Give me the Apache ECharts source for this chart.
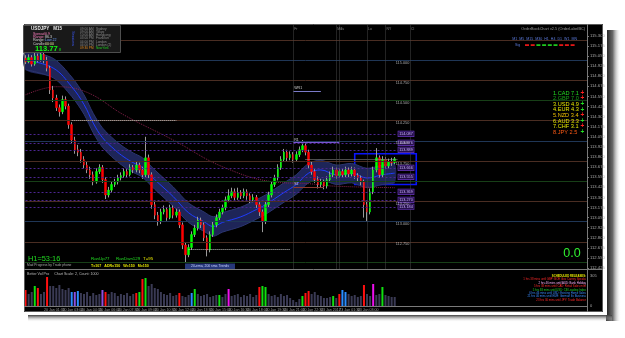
<!DOCTYPE html>
<html><head><meta charset="utf-8">
<script src="https://cdn.jsdelivr.net/npm/echarts@6/dist/echarts.min.js"></script>
<style>html,body{margin:0;padding:0;background:#fff;}#c{width:625px;height:338px;}</style>
</head><body><div id="c"></div>
<script>
// ---------- DATA ----------
const firstOpen = 115.02;
const closes = [114.98,115.03,114.95,115.05,115.00,115.07,115.00,114.90,114.63,114.53,
 114.41,114.36,114.51,114.43,114.20,114.01,113.89,113.86,113.77,113.70,
 113.64,113.58,113.49,113.62,113.67,113.52,113.33,113.39,113.46,113.49,
 113.54,113.57,113.62,113.58,113.67,113.64,113.70,113.64,113.58,113.79,
 113.58,113.21,113.08,113.00,113.12,113.15,113.05,113.17,113.08,113.12,
 112.96,112.71,112.59,112.68,112.84,112.92,113.02,112.96,112.80,112.65,
 112.84,112.96,113.05,113.12,113.17,113.27,113.32,113.37,113.30,113.36,
 113.32,113.37,113.32,113.27,113.30,113.21,113.12,113.00,113.21,113.33,
 113.46,113.54,113.67,113.77,113.86,113.79,113.83,113.77,113.83,113.89,
 113.94,113.86,113.70,113.62,113.52,113.46,113.49,113.44,113.52,113.58,
 113.64,113.57,113.62,113.58,113.64,113.59,113.64,113.57,113.54,113.49,
 113.21,113.12,113.37,113.64,113.79,113.58,113.77,113.69,113.74,113.73,
 113.778];
const highs = [115.06,115.07,115.06,115.09,115.08,115.12,115.09,115.04,114.93,114.68,
 114.57,114.45,114.56,114.55,114.46,114.23,114.05,113.95,113.90,113.81,
 113.74,113.68,113.62,113.66,113.71,113.70,113.55,113.43,113.50,113.53,
 113.58,113.61,113.66,113.65,113.71,113.70,113.74,113.73,113.68,114.05,
 113.83,113.61,113.25,113.12,113.16,113.20,113.18,113.21,113.20,113.16,
 113.15,112.99,112.74,112.72,112.88,112.96,113.06,113.05,112.99,112.83,
 112.88,113.00,113.09,113.16,113.21,113.31,113.40,113.42,113.41,113.42,
 113.39,113.41,113.40,113.35,113.34,113.33,113.24,113.15,113.25,113.37,
 113.50,113.58,113.71,113.81,113.90,113.89,113.87,113.86,113.87,113.93,
 114.01,113.97,113.89,113.74,113.65,113.56,113.53,113.52,113.56,113.62,
 113.68,113.67,113.66,113.65,113.68,113.67,113.68,113.67,113.60,113.57,
 113.52,113.25,113.41,113.68,113.91,113.82,113.81,113.80,113.78,113.79,
 113.80];
const lows = [114.95,114.96,114.92,114.93,114.97,114.98,114.96,114.86,114.58,114.48,
 114.37,114.30,114.33,114.39,114.15,113.97,113.84,113.81,113.73,113.66,
 113.60,113.53,113.45,113.47,113.59,113.48,113.28,113.30,113.36,113.43,
 113.46,113.51,113.54,113.55,113.56,113.60,113.61,113.60,113.53,113.55,
 113.54,113.16,113.03,112.95,112.97,113.09,113.01,113.03,113.04,113.05,
 112.92,112.66,112.50,112.56,112.65,112.81,112.89,112.92,112.76,112.57,
 112.62,112.81,112.93,113.02,113.09,113.14,113.24,113.29,113.26,113.27,
 113.28,113.29,113.27,113.23,113.24,113.17,113.07,112.87,112.97,113.18,
 113.30,113.43,113.51,113.64,113.74,113.75,113.76,113.73,113.74,113.80,
 113.86,113.82,113.66,113.58,113.48,113.41,113.42,113.40,113.41,113.49,
 113.55,113.53,113.54,113.54,113.55,113.55,113.56,113.53,113.50,113.45,
 113.05,113.00,113.09,113.34,113.61,113.54,113.55,113.65,113.66,113.69,
 113.71];
const volumes = [160,120,140,200,180,120,140,290,200,200,
 180,210,170,160,180,140,140,150,130,120,
 140,100,130,110,120,160,140,120,140,130,
 100,120,110,130,100,120,130,140,270,280,
 200,220,180,170,140,120,110,130,100,110,
 130,100,90,110,130,170,120,100,110,120,
 90,100,110,110,90,120,170,100,110,120,
 90,110,100,120,90,110,190,200,190,120,
 100,110,90,120,100,110,80,60,40,70,
 100,130,150,120,140,110,100,80,80,90,
 100,80,120,160,140,120,100,110,90,100,
 210,120,100,220,110,120,190,110,100,90,
 90];
const volColorCodes = [1,0,0,2,1,0,0,1,0,0, 0,0,0,0,0,3,5,3,0,0, 0,0,0,0,0,5,1,0,0,0,
 0,0,0,0,0,0,1,2,1,2, 0,0,0,0,0,0,0,0,0,0, 1,0,0,0,3,2,0,0,0,0, 0,0,0,2,0,0,4,0,0,0,
 0,0,0,0,0,0,1,2,2,0, 0,0,0,0,0,0,0,0,0,0, 2,1,1,0,0,0,0,0,0,0, 2,0,1,3,3,0,0,0,0,0,
 1,0,0,4,0,0,2,0,0,0, 0];
const totalSlots = 183;
const labelEvery = 6;
const dateLabels = ['20 Jan 2017','20 Jan 01:30','20 Jan 03:00','20 Jan 04:30','20 Jan 06:00',
 '20 Jan 07:30','20 Jan 09:00','20 Jan 10:30','20 Jan 12:00','20 Jan 13:30','20 Jan 15:00',
 '20 Jan 16:30','20 Jan 18:00','20 Jan 19:30','20 Jan 21:00','20 Jan 22:30','23 Jan 2017',
 '23 Jan 01:30','23 Jan 03:00','23 Jan 04:30'];
const priceTicks = [115.300,115.175,115.050,114.925,114.800,114.675,114.550,114.425,114.300,
 114.175,114.050,113.925,113.800,113.675,113.550,113.425,113.300,113.175,113.050,112.925,
 112.800,112.675,112.550,112.425];
const volTicks = [0, 305];
// moving-average envelope (index, price)
const bandMid = [[0,115.00],[9,114.90],[15,114.67],[19,114.45],[22,114.22],[25,114.04],[29,113.89],
 [32,113.80],[35,113.73],[38,113.67],[42,113.52],[48,113.31],[53,113.11],[58,113.00],[61,112.94],
 [64,112.99],[70,113.06],[75,113.15],[78,113.21],[84,113.36],[88,113.46],[92,113.60],[96,113.64],
 [101,113.58],[106,113.60],[111,113.54],[116,113.58],[120,113.60]];
const bandUpper = [[0,115.12],[9,115.02],[15,114.79],[19,114.57],[22,114.34],[25,114.16],[29,114.01],
 [32,113.92],[35,113.85],[38,113.79],[42,113.64],[48,113.43],[53,113.23],[58,113.12],[61,113.06],
 [64,113.11],[70,113.18],[75,113.27],[78,113.33],[84,113.48],[88,113.58],[92,113.72],[96,113.76],
 [101,113.70],[106,113.72],[111,113.66],[116,113.70],[120,113.72]];
const bandLower = [[0,114.88],[9,114.78],[15,114.55],[19,114.33],[22,114.10],[25,113.92],[29,113.77],
 [32,113.68],[35,113.61],[38,113.55],[42,113.40],[48,113.19],[53,112.99],[58,112.88],[61,112.82],
 [64,112.87],[70,112.94],[75,113.03],[78,113.09],[84,113.24],[88,113.34],[92,113.48],[96,113.52],
 [101,113.46],[106,113.48],[111,113.42],[116,113.46],[120,113.48]];
const slowMa = [[0,114.57],[10,114.67],[20,114.60],[32,114.32],[48,114.01],[64,113.68],[81,113.49],
 [92,113.47],[100,113.44],[120,113.42]];
const quarterLevels = [115.25,115.00,114.75,114.50,114.25,114.00,113.75,113.50,113.25,113.00,112.75,112.50];
const quarterKinds  = ['q','w','q','h','q','w','q','h','q','w','q','h'];
const quarterLabelLevels = [115.00,114.75,114.50,114.25,114.00,113.75,113.25,113.00,112.75];
const purpleLevels = [114.087,113.976,113.889,113.666,113.555,113.369,113.270,113.184];
const purpleEnd = 121;
const dottedSegs = [[0,4,115.30],[15,49,114.26],[53,86,112.66]];
const pivotSegs = [[87,96,114.62,'WR1','#7a7ac8'],[87,102,113.98,'R1','#7a55d0'],[87,97,113.43,'S1','#8e3a30']];
const bidSeg = [91,121];
const eventSlots = [87,101,102,111,117,125];
const eventNames = ['Fr','Mo','Tu','Lo','NY','Cl'];
const boxRange = [[107,113.84],[127,113.46]];
const currencyRows = [['1.CAD 7.1','#22dd22','#ff2020'],['2.GBP 7.0','#16a016','#ff2020'],
 ['3.USD 4.9','#e6e600','#22dd22'],['4.EUR 4.3','#e6e600','#22dd22'],['5.NZD 3.4','#f0c000','#ff2020'],
 ['6.AUD 3.3','#e6e600','#22dd22'],['7.CHF 3.1','#e6e600','#ff2020'],['8.JPY 2.5','#ff5a14','#22dd22']];
const sigColors = ['#ff1a1a','#ff1a1a','#22dd22','#22dd22','#22dd22','#22dd22','#ff1a1a','#ff1a1a','#ff1a1a'];
const sessionRows = [['09:00 AM','Sydney'],['09:00 AM','Tokyo'],['10:00 AM','Hongkong'],['03:00 PM','Frankfurt'],
 ['04:00 PM','London'],['04:00 PM','London (2)'],['09:30 PM','NewYork']];
const releaseRows = [['SCHEDULED RELEASES:','#e6e600'],
 ['1 hrs 38 mins until GBP: BOE Gov Carney Speaks','#ff2a2a'],
 ['2 hrs 46 mins until AUD: Bank Holiday','#ffb0ff'],
 ['5 hrs 38 mins until CAD: Retail Sales m/m','#ff2a2a'],
 ['5 hrs 38 mins until USD: CB Leading Index','#22cc22'],
 ['6 hrs 46 mins until USD: Existing Home Sales','#3a8cff'],
 ['21 hrs 46 mins until EUR: German Ifo Business','#3a8cff'],
 ['23 hrs 30 mins until JPY: Trade Balance','#ff2a2a']];

// ---------- BUILD ----------
const FONT = '"Liberation Sans", Arial, sans-serif';
const N = closes.length;
const opens = closes.map((c,i)=> i===0 ? firstOpen : closes[i-1]);
const categories = [];
for (let i=0;i<totalSlots;i++) categories.push(i%labelEvery===0 && dateLabels[i/labelEvery] ? dateLabels[i/labelEvery] : 's'+i);
const wickData = closes.map((c,i)=>[opens[i], c, lows[i], highs[i]]);
const bodyData = closes.map((c,i)=>[opens[i], c, Math.min(opens[i],c), Math.max(opens[i],c)]);
const volPalette = ['#3a3a54','#ff1010','#10e010','#2a8cff','#ee10ee','#8a50e0'];
const qColor = {q:'#4a2d22', w:'#1f3656', h:'#173f17'};

const lvlLines = [];
quarterLevels.forEach((v,k)=>lvlLines.push({yAxis:v, lineStyle:{color:qColor[quarterKinds[k]], width:1, type:'solid'}}));
dottedSegs.forEach(s=>lvlLines.push([{coord:[s[0],s[2]], lineStyle:{color:'#c0c0c0', type:'dotted', width:1}},{coord:[s[1],s[2]]}]));
pivotSegs.forEach(s=>lvlLines.push([{coord:[s[0],s[2]], name:s[3], lineStyle:{color:s[4], width:1, type:'solid'},
  label:{show:true, position:'insideStartTop', formatter:'{b}', color:'#d0d0d0', fontSize:3.6, distance:[1,0.5]}},{coord:[s[1],s[2]]}]));
lvlLines.push([{coord:[bidSeg[0],closes[N-1]], lineStyle:{color:'#9a9a9a', type:'dotted', width:1}},{coord:[bidSeg[1],closes[N-1]]}]);
eventSlots.forEach(x=>lvlLines.push({xAxis:x, lineStyle:{color:'#464646', type:'dotted', width:1}}));

const purpleLines = purpleLevels.map(v=>[{coord:[0,v], name:v.toFixed(3)},{coord:[purpleEnd,v]}]);

const G = [];
function T(x,y,text,color,size,o){ o=o||{}; return {type:'text', x:x, y:y, z:100, rotation:o.rot||0,
  style:{text:text, fill:color, font:(o.bold?'bold ':'')+size+'px '+FONT, align:o.align||'left', verticalAlign:'middle'}}; }
// frame with shadow
G.push({type:'rect', z:-11, shape:{x:606,y:30,width:15,height:291},
  style:{fill:new echarts.graphic.LinearGradient(0,0,1,0,[{offset:0,color:'#1c1c1c'},{offset:0.45,color:'#6a6a6a'},{offset:1,color:'rgba(255,255,255,0)'}])}});
G.push({type:'rect', z:-11, shape:{x:28,y:315,width:584,height:7},
  style:{fill:new echarts.graphic.LinearGradient(0,0,0,1,[{offset:0,color:'#3a3a3a'},{offset:1,color:'rgba(255,255,255,0)'}])}});
G.push({type:'rect', z:-10, shape:{x:20,y:21,width:587,height:294}, style:{fill:'#ffffff'}});
G.push({type:'rect', z:-9, shape:{x:24,y:24,width:579,height:288}, style:{fill:'#000000'}});
G.push({type:'rect', z:60, shape:{x:24.5,y:24.5,width:578,height:287}, style:{fill:null, stroke:'#5a5a5a', lineWidth:1}});
G.push({type:'line', z:60, shape:{x1:587.5,y1:24,x2:587.5,y2:312}, style:{stroke:'#7a7a7a', lineWidth:1}});
G.push({type:'line', z:60, shape:{x1:24,y1:269.5,x2:603,y2:269.5}, style:{stroke:'#7a7a7a', lineWidth:1}});
G.push({type:'line', z:60, shape:{x1:24,y1:306.5,x2:587.5,y2:306.5}, style:{stroke:'#7a7a7a', lineWidth:1}});
// info box
G.push({type:'rect', z:90, shape:{x:23.5,y:25.5,width:97,height:27}, style:{fill:'#191919', stroke:'#4e4e4e', lineWidth:1}});
G.push(T(31,29,'USDJPY   M15','#e8e8e8',4.6,{bold:true}));
G.push(T(33,33.6,'Spread:','#ff7fbf',3.6)); G.push(T(45,33.6,'0.9','#ff7fbf',3.6));
G.push(T(33,37,'Range:','#ff7fbf',3.6)); G.push(T(45,37,'86.3','#d8d8d8',3.6));
G.push(T(33,40.4,'Range:','#d8d8d8',3.6)); G.push(T(45,40.4,'Low 22','#6f9fff',3.6));
G.push(T(33,43.8,'Candle:','#d8d8d8',3.6)); G.push(T(45,43.8,'00:00','#e8e8a0',3.6));
G.push(T(35,48.6,'113.77','#10ff10',7.6,{bold:true})); G.push(T(59,49.6,'8','#10ff10',3.6));
G.push(T(72.5,38.5,'Sessions','#3d5bff',3.6,{rot:-Math.PI/2, align:'center'}));
sessionRows.forEach((r,k)=>{ const last=k===sessionRows.length-1;
  G.push(T(80,29+3.2*k,r[0],last?'#e08a20':'#8c8c8c',3.2)); G.push(T(96,29+3.2*k,r[1],last?'#22cc22':'#8c8c8c',3.2)); });
// top right
G.push(T(585,29,'OrderBookChart v2.5 (OrderLabelBC)','#9a9a9a',3.8,{align:'right'}));
G.push(T(577,38.5,'M1  M5  M15  M30  H1  H4  D1  W1  MN','#5a78d8',3.6,{align:'right'}));
G.push(T(515,45,'Sig','#5a78d8',3.6));
sigColors.forEach((c,k)=>G.push({type:'rect', z:100, shape:{x:525+5.7*k,y:44.3,width:4,height:1.6}, style:{fill:c}}));
currencyRows.forEach((r,k)=>{ G.push(T(553,93+5.6*k,r[0],r[1],5.6)); G.push(T(582.5,93+5.6*k,'+',r[2],6.5,{bold:true, align:'center'})); });
G.push(T(572,254,'0.0','#30ee30',12.5,{align:'center'}));
// bottom left
G.push(T(28,258.5,'H1=53:16','#22dd22',7.4));
G.push(T(27,265.2,'Mad Progress by Trade phone','#a8a8a8',3.3));
G.push(T(91,259,'RanUp77','#22dd22',4.4)); G.push(T(116,259,'RanDwn129','#22dd22',4.4)); G.push(T(143,259,'T=95','#e6e600',4.4));
G.push(T(91,266,'T=107   ADR=150   W=150   M=150','#e6e600',3.6,{bold:true}));
G.push({type:'rect', z:90, shape:{x:185,y:263.5,width:50,height:5.6}, style:{fill:'#27387a'}});
G.push(T(210,266.4,'20-ema, 200 sma Trends','#c8d0ff',3.4,{align:'center'}));
G.push(T(27,273.6,'Better Vol Pro     Chart Scale: 2, Count: 1000','#bdbdbd',3.6));
releaseRows.forEach((r,k)=>G.push(T(586,276.3+3.4*k,r[0],r[1],2.8,{align:'right', bold:k===0})));

const option = {
  backgroundColor:'#ffffff', animation:false,
  graphic:{elements:G},
  grid:[{left:24,top:24.5,width:563,height:244},{left:24,top:272,width:563,height:34}],
  xAxis:[
    {type:'category', gridIndex:0, data:categories, boundaryGap:true, axisLine:{show:false}, axisTick:{show:false}, axisLabel:{show:false}, splitLine:{show:false}},
    {type:'category', gridIndex:1, data:categories, boundaryGap:true, axisLine:{show:false}, axisTick:{show:false},
     axisLabel:{show:true, interval:(i)=> i%labelEvery===0 && i/labelEvery < dateLabels.length, color:'#9a9a9a', fontSize:3.6, fontFamily:FONT, align:'left', margin:1.5}, splitLine:{show:false}}
  ],
  yAxis:[
    {type:'value', gridIndex:0, position:'right', min:112.42, max:115.44, scale:true, splitLine:{show:false}, axisLine:{show:false},
     axisTick:{show:true, length:2, lineStyle:{color:'#7a7a7a'}, customValues:priceTicks},
     axisLabel:{show:true, customValues:priceTicks, formatter:(v)=>v.toFixed(3), color:'#a8a8a8', fontSize:4.2, fontFamily:FONT, margin:3}},
    {type:'value', gridIndex:1, position:'right', min:0, max:340, splitLine:{show:false}, axisLine:{show:false},
     axisTick:{show:false}, axisLabel:{show:true, customValues:volTicks, color:'#a8a8a8', fontSize:4, fontFamily:FONT, margin:3}}
  ],
  series:[
    {type:'custom', name:'band', xAxisIndex:0, yAxisIndex:0, z:1, silent:true, data:[[0,bandMid[0][1]]],
     renderItem:(params, api)=>{
       const up = bandUpper.map(p=>api.coord(p)); const lo = bandLower.map(p=>api.coord(p));
       return {type:'group', children:[
         {type:'polygon', shape:{points:up.concat(lo.slice().reverse()), smooth:0.3}, style:{fill:'#1e2558'}},
         {type:'polyline', shape:{points:up, smooth:0.3}, style:{stroke:'#2b356f', lineWidth:1, fill:null}},
         {type:'polyline', shape:{points:lo, smooth:0.3}, style:{stroke:'#2b356f', lineWidth:1, fill:null}}]};
     }},
    {type:'line', name:'levels', xAxisIndex:0, yAxisIndex:0, z:1, data:[], silent:true,
     markLine:{silent:true, symbol:'none', animation:false, label:{show:false}, data:lvlLines}},
    {type:'line', name:'pivots', xAxisIndex:0, yAxisIndex:0, z:1, data:[], silent:true,
     markLine:{silent:true, symbol:'none', animation:false, lineStyle:{color:'#4c2590', type:[2,2], width:1},
      label:{show:true, position:'end', formatter:'{b}', color:'#c8b0ff', fontSize:3.8, fontFamily:FONT, distance:0.5,
        backgroundColor:'#26104a', borderColor:'#6a38c0', borderWidth:0.6, padding:[0.5,1]}, data:purpleLines}},
    {type:'line', name:'ma200', xAxisIndex:0, yAxisIndex:0, z:2, data:slowMa, smooth:0.4, symbol:'none', silent:true,
     lineStyle:{color:'#85204a', width:1, type:'dotted'}},
    {type:'line', name:'ma20', xAxisIndex:0, yAxisIndex:0, z:2, data:bandMid, smooth:0.4, symbol:'none', silent:true,
     lineStyle:{color:'#1f3cff', width:1}},
    {type:'candlestick', name:'wicks', xAxisIndex:0, yAxisIndex:0, z:3, data:wickData, barWidth:1, silent:true,
     itemStyle:{color:'#9a9a9a', color0:'#9a9a9a', borderColor:'#9a9a9a', borderColor0:'#9a9a9a', borderWidth:1}},
    {type:'candlestick', name:'bodies', xAxisIndex:0, yAxisIndex:0, z:4, data:bodyData, barWidth:2, silent:true,
     itemStyle:{color:'#00ff00', color0:'#ff0000', borderColor:'#00ff00', borderColor0:'#ff0000', borderWidth:0.5},
     markArea:{silent:true, itemStyle:{color:'rgba(0,0,0,0)', borderColor:'#0a14ff', borderWidth:1.6},
       data:[[{coord:boxRange[0]},{coord:boxRange[1]}]]},
     markLine:{silent:true, symbol:'none', animation:false, lineStyle:{opacity:0},
       label:{show:true, position:'end', distance:1, formatter:(p)=>p.value.toFixed(3), color:'#000', backgroundColor:'#c4c4c4', fontSize:4.2, fontFamily:FONT, padding:[0.5,1]},
       data:[{yAxis:closes[N-1]}]}},
    {type:'scatter', name:'qlabels', xAxisIndex:0, yAxisIndex:0, z:5, symbolSize:0, silent:true,
     data:quarterLabelLevels.map(v=>[purpleEnd,v]),
     label:{show:true, position:'right', distance:0, offset:[-2,2.5], formatter:(p)=>p.value[1].toFixed(3), color:'#d0d0d0', fontSize:3.8, fontFamily:FONT}},
    {type:'scatter', name:'events', xAxisIndex:0, yAxisIndex:0, z:5, symbolSize:0, silent:true,
     data:eventSlots.map((x,k)=>({value:[x,115.38], name:eventNames[k]})),
     label:{show:true, position:'right', distance:1, formatter:'{b}', color:'#a0a0a0', fontSize:3.4, fontFamily:FONT}},
    {type:'bar', name:'volume', xAxisIndex:1, yAxisIndex:1, barWidth:2, silent:true,
     data:volumes.map((v,i)=>({value:v, itemStyle:{color:volPalette[volColorCodes[i]]}}))}
  ]
};
const chart = echarts.init(document.getElementById('c'), null, {renderer:'canvas', width:625, height:338});
chart.setOption(option);
</script>
</body></html>
